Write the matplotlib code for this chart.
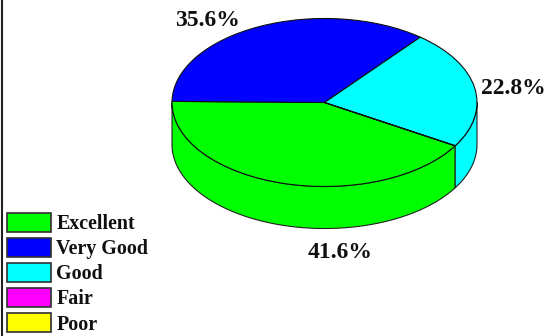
import numpy as np
import matplotlib
matplotlib.use("Agg")
import matplotlib.pyplot as plt
from matplotlib.patches import Patch

categories = ["Excellent", "Very Good", "Good", "Fair", "Poor"]
values = [41.6, 35.6, 22.8, 0.0, 0.0]
colors = ["#00ff00", "#0000ff", "#00ffff", "#ff00ff", "#ffff00"]
pct_labels = ["41.6%", "35.6%", "22.8%"]

W, H = 548, 336
plt.rcParams["font.family"] = ["Liberation Serif", "DejaVu Serif"]
plt.rcParams["font.weight"] = "bold"

fig = plt.figure(figsize=(W / 100, H / 100), dpi=100, facecolor="white")

# pie box in pixels
cx, cy, a, b, depth = 324.5, 102.5, 152.5, 84.0, 42.0
ax = fig.add_axes([(cx - a) / W, 1 - (cy + b) / H, 2 * a / W, 2 * b / H])
d = depth / b
start = -31.0

# slices run clockwise from the start angle; the wall shows for the lower half of the ellipse
ends = start - np.cumsum([0] + values) / sum(values) * 360
for i, v in enumerate(values):
    if v <= 0:
        continue
    for turn in (0, 360):
        hi = min(ends[i] + turn, 0)
        lo = max(ends[i + 1] + turn, -180)
        if hi <= lo:
            continue
        t = np.radians(np.linspace(lo, hi, 120))
        x, y = np.cos(t), np.sin(t)
        ax.fill(np.r_[x, x[::-1]], np.r_[y, y[::-1] - d], fc=colors[i], ec="#202020",
                lw=0.8, clip_on=False, zorder=1)

wedges, _ = ax.pie(values, colors=colors, startangle=start, counterclock=False, radius=1,
                   center=(0, 0), wedgeprops=dict(ec="#101010", lw=0.8), normalize=True)
for w in wedges:
    w.set_clip_on(False)
    w.set_zorder(2)
ax.set_aspect("auto")
ax.set_xlim(-1, 1)
ax.set_ylim(-1, 1)
ax.axis("off")


def px(x, y):
    return (x - cx) / a, (cy - y) / b


positions = [(340, 252), (208, 21), (513, 89)]
for lab, (x, y) in zip(pct_labels, positions):
    ax.text(*px(x, y), lab, ha="center", va="center", fontsize=17, color="#101010",
            fontweight="bold", clip_on=False, zorder=5)

# left rule
fig.add_artist(plt.Line2D([2 / W, 2 / W], [0, 1], color="#202020", lw=1.5))

handles = [Patch(fc=c, ec="#303030", lw=1.2) for c in colors]
fig.legend(handles, categories, loc="lower left", bbox_to_anchor=(7 / W, 1.5 / H), borderaxespad=0,
           borderpad=0, frameon=False, fontsize=14.4, handlelength=2.2, handleheight=1.05,
           handletextpad=0.27, labelspacing=0.2, labelcolor="#101010")

fig.savefig("out.png", dpi=100)
